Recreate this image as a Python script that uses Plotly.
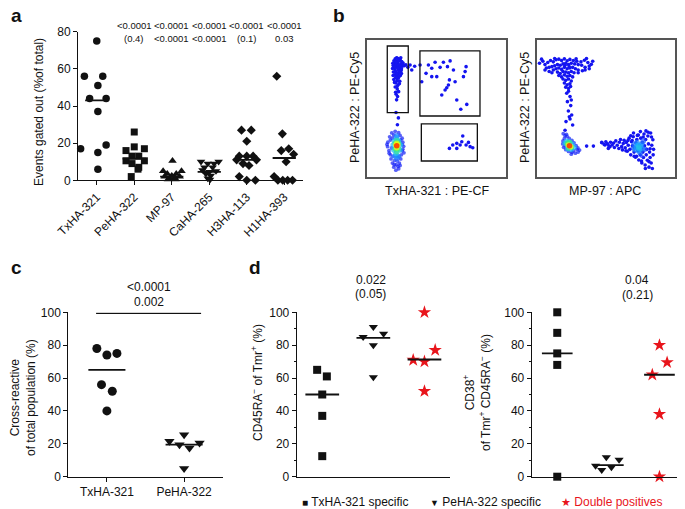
import plotly.graph_objects as go

# The page body keeps the browser's default 8px margin, so the figure is drawn 8px in
# from the top-left corner of the 685x509 window; size and positions account for that.
PAGE_MARGIN = 8
W, H = 685 - PAGE_MARGIN, 509 - PAGE_MARGIN
FONT = "Arial, 'Liberation Sans', sans-serif"
INK = "#111111"
RED = "#e8141b"


def fx(p):
    return (p - PAGE_MARGIN) / W


def fy(p):
    return 1 - (p - PAGE_MARGIN) / H


# ---------------- panel a : events gated out ----------------
a_categories = ["TxHA-321", "PeHA-322", "MP-97", "CaHA-265", "H3HA-113", "H1HA-393"]
a_txha321 = [75, 56, 56, 51, 44, 44, 37, 19, 17, 15, 6]
a_txha321_spread = [0, -0.33, 0.16, 0.03, -0.19, 0.25, 0.03, 0.25, -0.43, 0.03, 0.03]
a_peha322 = [26, 18, 17, 16, 13, 13, 10.5, 10.5, 9, 7, 6, 2]
a_peha322_spread = [0, 0, 0.27, -0.22, -0.06, 0.12, -0.22, 0.27, -0.06, 0.12, 0.1, -0.08]
a_mp97 = [10.5, 5, 3.5, 2.5, 3.5, 5, 2, 1.5, 1, 2, 0.5, 0.5]
a_mp97_spread = [0.02, -0.23, -0.12, 0, 0.12, 0.26, -0.19, 0.08, -0.05, 0.21, -0.1, 0.1]
a_caha265 = [10, 9, 9, 10, 7, 7, 5.5, 4.5, 5, 3.5, 2.5, 1, 0.3]
a_caha265_spread = [-0.22, -0.04, 0.13, 0.25, -0.13, 0.09, -0.18, 0, 0.18, -0.09, 0.04, -0.04, 0.02]
a_h3ha113 = [27, 27, 21, 13, 13, 13, 11, 11, 9, 8, 2, 0, 0]
a_h3ha113_spread = [-0.14, 0.12, 0, -0.2, 0, 0.17, -0.27, 0.26, -0.1, 0.06, -0.2, 0, 0.23]
a_h1ha393 = [56, 25, 17, 16, 14, 10, 2, 0, 0, 0, 0]
a_h1ha393_spread = [-0.2, -0.05, 0.12, -0.08, 0.25, 0.05, -0.27, -0.17, -0.04, 0.09, 0.22]
a_medians = [43, 11.7, 2, 4.5, 11, 12]
a_p_row1 = ["", "<0.0001", "<0.0001", "<0.0001", "<0.0001", "<0.0001"]
a_p_row2 = ["", "(0.4)", "<0.0001", "<0.0001", "(0.1)", "0.03"]

# ---------------- panel c : cross-reactive ----------------
c_categories = ["TxHA-321", "PeHA-322"]
c_txha321 = [78, 74, 75, 56, 52, 40]
c_txha321_spread = [-0.13, 0.0, 0.13, -0.07, 0.07, 0.0]
c_peha322 = [21.5, 19.5, 17.5, 20.5, 25.5, 5]
c_peha322_spread = [-0.19, -0.06, 0.07, 0.2, 0.0, 0.0]
c_medians = [65, 19.5]
c_pvalues = ["<0.0001", "0.002"]

# ---------------- panel d : memory phenotype ----------------
d_groups = ["TxHA-321 specific", "PeHA-322 specific", "Double positives"]
d1_txha = [65, 61, 50, 37, 12.5]
d1_txha_spread = [-0.1, 0.09, 0, 0, 0]
d1_peha = [91, 85, 87, 80, 60.5]
d1_peha_spread = [0, -0.2, 0.2, 0, 0]
d1_double = [100, 77, 71, 70, 52]
d1_double_spread = [0, 0.21, -0.22, 0, 0]
d1_medians = [50, 84.5, 71.3]
d1_pvalues = ["0.022", "(0.05)"]

d2_txha = [100, 87.5, 75, 68, 0]
d2_txha_spread = [0, 0, 0, 0, 0]
d2_peha = [11.8, 10.3, 6.7, 4.1, 5.7]
d2_peha_spread = [-0.04, 0.21, -0.25, -0.13, 0.06]
d2_double = [80, 69.5, 62, 38, 0]
d2_double_spread = [0, 0.15, -0.14, 0, 0]
d2_medians = [75, 7, 62]
d2_pvalues = ["0.04", "(0.21)"]

# ---------------- panel b : flow cytometry events (arbitrary units 0-1000) ----------------
bL_events = [
    # TxHA-321- PeHA-322+ column
    (205, 862), (222, 866), (240, 858), (196, 848), (214, 844), (232, 850), (252, 842), (200, 830),
    (226, 832), (246, 826), (190, 814), (210, 818), (236, 812), (256, 808), (198, 796), (218, 800),
    (238, 793), (205, 781), (228, 778), (248, 776), (192, 766), (212, 762), (232, 761), (200, 746),
    (222, 742), (242, 740), (208, 726), (228, 722), (195, 711), (218, 703), (238, 698), (210, 686),
    (225, 671), (205, 656), (220, 641), (230, 622), (212, 603), (222, 586), (215, 562), (262, 832),
    (186, 792), (240, 760), (215, 728), (200, 690), (235, 680), (230, 852), (210, 802), (250, 790),
    (215, 870), (245, 870), (188, 830), (258, 822), (225, 815), (205, 770), (235, 735), (190, 740),
    (250, 755), (215, 752), (228, 795), (200, 805), (242, 812), (212, 838), (230, 700), (218, 660),
    (208, 618),
    (270, 812), (282, 818), (296, 800), (312, 817), (324, 781), (345, 808),
    (211, 470), (228, 430), (221, 380),
    # double positive gate
    (384, 817), (444, 817), (492, 837), (552, 837), (600, 847), (468, 793), (528, 800), (581, 805),
    (624, 781), (715, 805), (708, 769), (696, 732), (427, 756), (468, 732), (504, 732), (595, 708),
    (588, 671), (576, 651), (564, 634), (540, 598), (636, 695), (648, 561), (720, 529), (677, 493),
    (396, 695),
    # TxHA-321+ PeHA-322- gate
    (595, 207), (619, 232), (648, 244), (684, 256), (691, 298), (732, 251), (744, 220), (763, 212),
    (648, 207), (672, 232), (715, 232),
]
bL_cluster = [  # (x, y, density level)
    (180, 320, .05), (205, 332, .05), (230, 322, .05), (165, 292, .05), (195, 305, .05), (240, 302, .05),
    (255, 282, .05), (152, 252, .05), (170, 268, .05), (260, 252, .05), (266, 222, .05), (150, 220, .05),
    (160, 190, .05), (255, 190, .05), (170, 160, .05), (250, 160, .05), (175, 130, .05), (245, 130, .05),
    (185, 100, .05), (235, 100, .05), (195, 70, .05), (225, 75, .05), (210, 48, .05), (200, 118, .08),
    (230, 58, .05), (212, 88, .05), (240, 82, .05), (190, 150, .1), (260, 200, .05), (146, 236, .05),
    (178, 210, .1), (255, 235, .1), (220, 115, .1), (198, 88, .05), (185, 282, .05), (245, 268, .05),
    (268, 175, .05), (162, 172, .05), (232, 148, .1),
    (200, 262, .3), (230, 262, .3), (190, 232, .3), (242, 232, .3), (195, 195, .3), (240, 195, .3),
    (215, 285, .25), (210, 170, .3), (226, 150, .22), (204, 150, .22), (216, 300, .2), (218, 135, .18),
    (205, 245, .5), (228, 245, .5), (206, 205, .5), (228, 205, .5), (216, 265, .45), (216, 182, .45),
    (210, 232, .72), (224, 232, .72), (216, 212, .72), (216, 245, .7),
    (216, 226, 1.0),
]
bL_gates = [  # (x0, x1, y0, y1)
    (148, 299, 468, 956),
    (383, 815, 444, 920),
    (393, 796, 115, 386),
]

bR_events = [
    # PeHA-322 single positive fan
    (20, 830), (45, 845), (60, 820), (80, 835), (100, 850), (120, 840), (140, 855), (160, 860),
    (180, 850), (200, 862), (220, 848), (240, 858), (265, 850), (290, 845), (320, 840), (345, 852),
    (370, 835), (395, 822), (405, 845), (380, 810), (350, 800), (325, 815), (300, 820), (275, 825),
    (250, 830), (230, 820), (210, 830), (190, 825), (170, 815), (150, 820), (130, 812), (110, 805),
    (90, 800), (70, 795), (120, 780), (140, 790), (160, 795), (180, 785), (200, 800), (220, 790),
    (240, 795), (260, 800), (280, 790), (300, 780), (330, 775), (110, 760), (150, 765), (170, 755),
    (190, 770), (210, 765), (230, 760), (250, 770), (270, 760), (160, 740), (180, 730), (200, 745),
    (220, 735), (240, 740), (260, 730), (190, 715), (210, 705), (230, 715), (250, 700), (200, 685),
    (220, 672), (240, 680), (210, 655), (230, 645), (245, 660), (90, 770), (60, 780), (300, 760),
    (350, 780), (380, 790), (35, 860), (130, 865), (285, 862), (360, 865), (205, 815), (235, 805),
    # vertical tail
    (217, 610), (241, 586), (222, 549), (246, 520), (229, 481), (253, 451), (241, 422), (260, 378),
    (236, 439), (212, 403), (250, 561), (230, 625), (205, 340),
    # bridge
    (361, 224), (410, 224), (470, 251), (494, 232), (518, 207), (530, 220),
    # MP-97 positive cluster
    (472, 248), (488, 236), (500, 256), (512, 240), (522, 226), (534, 252), (546, 232), (556, 246),
    (562, 214), (572, 262), (582, 230), (594, 206), (598, 252), (606, 272), (614, 220), (620, 196),
    (626, 242), (632, 266), (640, 212), (648, 250), (655, 186), (662, 230), (668, 282), (674, 200),
    (680, 160), (686, 256), (692, 226), (698, 292), (704, 180), (708, 212), (714, 142), (718, 248),
    (724, 272), (728, 302), (732, 190), (738, 122), (742, 232), (748, 160), (752, 282), (756, 210),
    (760, 100), (764, 250), (768, 180), (772, 140), (776, 312), (780, 226), (784, 86), (788, 272),
    (792, 160), (796, 200), (800, 120), (804, 298), (808, 240), (812, 70), (816, 180), (820, 140),
    (824, 320), (828, 100), (832, 230), (836, 60), (840, 270), (842, 160), (845, 200), (700, 320),
    (750, 330), (790, 335), (680, 300), (735, 305), (722, 150), (758, 115), (786, 60), (812, 110),
    (690, 265), (770, 290), (830, 290), (806, 325), (820, 205), (660, 265), (645, 190), (705, 150),
]
bR_cluster = [  # (x, y, density level)
    (192, 315, .05), (205, 300, .05), (200, 280, .05), (190, 262, .05), (188, 240, .05), (195, 215, .05),
    (210, 198, .05), (230, 185, .05), (255, 178, .05), (280, 172, .05), (300, 180, .05), (310, 195, .05),
    (298, 210, .05), (285, 228, .05), (270, 248, .05), (255, 265, .05), (235, 280, .05), (220, 295, .05),
    (215, 310, .05), (265, 190, .05), (290, 200, .05), (205, 225, .1), (250, 165, .05),
    (215, 260, .3), (205, 245, .3), (225, 205, .3), (250, 200, .3), (270, 215, .3), (255, 240, .3),
    (235, 255, .3), (220, 235, .35),
    (222, 245, .5), (250, 215, .5), (238, 250, .5), (232, 210, .5),
    (228, 232, .72), (246, 220, .72),
    (237, 227, 1.0),
    (720, 215, .25), (742, 205, .3), (732, 232, .28), (712, 198, .22), (752, 225, .25), (736, 188, .22),
    (760, 240, .2), (725, 250, .2), (748, 176, .18), (765, 205, .2), (705, 235, .18), (738, 215, .33),
    (780, 200, .15), (700, 210, .15), (770, 260, .15), (760, 150, .12),
]

FLOW_CS = [[0, "#0a0af0"], [0.12, "#1f3dff"], [0.28, "#19b5ff"], [0.5, "#3cf07c"],
           [0.72, "#ffff00"], [0.86, "#ff8c00"], [1, "#ff0000"]]

fig = go.Figure()

# ---------- panel a traces ----------
a_series = [a_txha321, a_peha322, a_mp97, a_caha265, a_h3ha113, a_h1ha393]
a_spreads = [a_txha321_spread, a_peha322_spread, a_mp97_spread, a_caha265_spread,
             a_h3ha113_spread, a_h1ha393_spread]
a_symbols = ["circle", "square", "triangle-up", "triangle-down", "diamond", "diamond"]
a_sizes = [7.5, 7, 7.5, 7.5, 7, 7]
for i, (vals, spr) in enumerate(zip(a_series, a_spreads)):
    fig.add_trace(go.Scatter(
        x=[i + s for s in spr], y=vals, mode="markers", xaxis="x", yaxis="y",
        marker=dict(symbol=a_symbols[i], size=a_sizes[i], color=INK, line=dict(width=0)),
        cliponaxis=False, hoverinfo="skip"))


# ---------- panel b traces ----------
def flow(events, cluster, xa, ya):
    fig.add_trace(go.Scatter(
        x=[e[0] for e in events], y=[e[1] for e in events], mode="markers", xaxis=xa, yaxis=ya,
        marker=dict(size=3.6, color="#1414f0", line=dict(width=0)), hoverinfo="skip"))
    ordered = sorted(cluster, key=lambda c: c[2])
    fig.add_trace(go.Scatter(
        x=[c[0] for c in ordered], y=[c[1] for c in ordered], mode="markers", xaxis=xa, yaxis=ya,
        marker=dict(size=[3.8 if c[2] < 0.15 else 5.5 for c in ordered],
                    color=[c[2] for c in ordered], colorscale=FLOW_CS, cmin=0, cmax=1,
                    line=dict(width=0)),
        hoverinfo="skip"))


flow(bL_events, bL_cluster, "x2", "y2")
flow(bR_events, bR_cluster, "x3", "y3")

# ---------- panel c traces ----------
fig.add_trace(go.Scatter(x=[0 + s for s in c_txha321_spread], y=c_txha321, mode="markers",
                         xaxis="x4", yaxis="y4", cliponaxis=False, hoverinfo="skip",
                         marker=dict(symbol="circle", size=9, color=INK)))
fig.add_trace(go.Scatter(x=[1 + s for s in c_peha322_spread], y=c_peha322, mode="markers",
                         xaxis="x4", yaxis="y4", cliponaxis=False, hoverinfo="skip",
                         marker=dict(symbol="triangle-down", size=9, color=INK)))

# ---------- panel d traces ----------
d_symbols = ["square", "triangle-down", "star"]
d_colors = [INK, INK, RED]
d_msizes = [8, 8, 10]
for xa, ya, series, spreads in [
    ("x5", "y5", [d1_txha, d1_peha, d1_double], [d1_txha_spread, d1_peha_spread, d1_double_spread]),
    ("x6", "y6", [d2_txha, d2_peha, d2_double], [d2_txha_spread, d2_peha_spread, d2_double_spread]),
]:
    for i, (vals, spr) in enumerate(zip(series, spreads)):
        fig.add_trace(go.Scatter(
            x=[i + s for s in spr], y=vals, mode="markers", xaxis=xa, yaxis=ya,
            marker=dict(symbol=d_symbols[i], size=d_msizes[i], color=d_colors[i], line=dict(width=0)),
            cliponaxis=False, hoverinfo="skip"))

# ---------- shapes: medians, comparison bars, gates ----------
shapes = []


def median_lines(meds, xr, yr, half, width=1.8):
    for i, m in enumerate(meds):
        shapes.append(dict(type="line", xref=xr, yref=yr, x0=i - half, x1=i + half, y0=m, y1=m,
                           line=dict(color=INK, width=width)))


median_lines(a_medians, "x", "y", 0.31)
median_lines(c_medians, "x4", "y4", 0.24)
median_lines(d1_medians, "x5", "y5", 0.33)
median_lines(d2_medians, "x6", "y6", 0.3)

shapes.append(dict(type="line", xref="x4", yref="y4", x0=-0.14, x1=1.22, y0=99.4, y1=99.4,
                   line=dict(color=INK, width=1.3)))
shapes.append(dict(type="line", xref="x5", yref="y5", x0=-0.15, x1=2.02, y0=105.8, y1=105.8,
                   line=dict(color=INK, width=1.3)))
shapes.append(dict(type="line", xref="x6", yref="y6", x0=0.87, x1=2.03, y0=101.8, y1=101.8,
                   line=dict(color=INK, width=1.3)))

for (x0, x1, y0, y1) in bL_gates:
    shapes.append(dict(type="rect", xref="x2", yref="y2", x0=x0, x1=x1, y0=y0, y1=y1,
                       line=dict(color=INK, width=1.3), fillcolor="rgba(0,0,0,0)"))

# ---------- annotations ----------
ann = []


def text(x, y, s, size=12, xref="paper", yref="paper", angle=0, color=INK, xanchor="center",
         yanchor="middle", bold=False):
    ann.append(dict(x=x, y=y, xref=xref, yref=yref, text=f"<b>{s}</b>" if bold else s,
                    showarrow=False, textangle=angle, xanchor=xanchor, yanchor=yanchor,
                    font=dict(size=size, color=color, family=FONT)))


# panel letters
text(fx(8.5), fy(15), "a", size=19, bold=True, xanchor="left")
text(fx(331), fy(16), "b", size=19, bold=True, xanchor="left")
text(fx(8.5), fy(267), "c", size=19, bold=True, xanchor="left")
text(fx(247), fy(267), "d", size=19, bold=True, xanchor="left")

# panel a p-values
for i in range(len(a_categories)):
    if a_p_row1[i]:
        text(i, fy(26), a_p_row1[i], size=9.5, xref="x")
        text(i, fy(39), a_p_row2[i], size=9.5, xref="x")
text(fx(39), fy(112), "Events gated out (%of total)", size=12, angle=-90)

# panel b titles
text(fx(355), fy(108), "PeHA-322 : PE-Cy5", size=12.5, angle=-90)
text(fx(525), fy(108), "PeHA-322 : PE-Cy5", size=12.5, angle=-90)
text(fx(437), fy(191), "TxHA-321 : PE-CF", size=12.5)
text(fx(605), fy(191), "MP-97 : APC", size=12.5)

# panel c
text(0.54, fy(286.5), c_pvalues[0], size=12, xref="x4")
text(0.54, fy(302), c_pvalues[1], size=12, xref="x4")
text(fx(23), fy(398), "Cross-reactive<br>of total population (%)", size=12, angle=-90)

# panel d
text(0.95, fy(279.5), d1_pvalues[0], size=12, xref="x5")
text(0.95, fy(293.5), d1_pvalues[1], size=12, xref="x5")
text(1.57, fy(279.5), d2_pvalues[0], size=12, xref="x6")
text(1.57, fy(294.5), d2_pvalues[1], size=12, xref="x6")
text(fx(257), fy(383), "CD45RA<sup>−</sup> of Tmr<sup>+</sup> (%)", size=12, angle=-90)
text(fx(477), fy(393), "CD38<sup>+</sup><br>of Tmr<sup>+</sup> CD45RA<sup>−</sup> (%)", size=12, angle=-90)

# legend of panel d
text(fx(300), fy(502), "<span style='font-size:10px'>■</span> " + d_groups[0], xanchor="left")
text(fx(428), fy(502), "<span style='font-size:9px'>▼</span> " + d_groups[1], xanchor="left")
text(fx(559), fy(502), "<span style='font-size:11px'>★</span> " + d_groups[2], xanchor="left",
     color=RED)

# ---------- axes ----------
base = dict(showgrid=False, zeroline=False, showline=True, linecolor=INK, linewidth=1,
            tickcolor=INK, tickfont=dict(size=12, color=INK, family=FONT), automargin=False)

flow_axis = dict(showgrid=False, zeroline=False, showline=True, mirror=True, linecolor="#555555",
                 linewidth=1.5, showticklabels=False, ticks="", range=[0, 1000], fixedrange=True,
                 automargin=False)

fig.update_layout(
    width=W, height=H, margin=dict(l=0, r=0, t=0, b=0, autoexpand=False),
    paper_bgcolor="white", plot_bgcolor="white", showlegend=False,
    font=dict(family=FONT, color=INK, size=12),
    xaxis=dict(base, domain=[fx(78), fx(303)], range=[-0.5, 5.5], anchor="y",
               tickvals=list(range(6)), ticktext=a_categories, tickangle=-45,
               ticks="outside", ticklen=4),
    yaxis=dict(base, domain=[fy(180.3), fy(31.7)], range=[0, 80], anchor="x",
               tickvals=[0, 20, 40, 60, 80], ticks="outside", ticklen=4),
    xaxis2=dict(flow_axis, domain=[fx(366.7), fx(505.7)], anchor="y2"),
    yaxis2=dict(flow_axis, domain=[fy(176.7), fy(40)], anchor="x2"),
    xaxis3=dict(flow_axis, domain=[fx(536.7), fx(675)], anchor="y3"),
    yaxis3=dict(flow_axis, domain=[fy(176.7), fy(40)], anchor="x3"),
    xaxis4=dict(base, domain=[fx(68.3), fx(222.7)], range=[-0.5, 1.5], anchor="y4",
                tickvals=[0, 1], ticktext=c_categories, tickangle=0, ticks="outside", ticklen=4),
    yaxis4=dict(base, domain=[fy(476.7), fy(312.3)], range=[0, 100], anchor="x4",
                tickvals=[0, 20, 40, 60, 80, 100], ticks="outside", ticklen=4),
    xaxis5=dict(base, domain=[fx(296.7), fx(450)], range=[-0.5, 2.5], anchor="y5",
                showticklabels=False, ticks=""),
    yaxis5=dict(base, domain=[fy(476.7), fy(312.3)], range=[0, 100], anchor="x5",
                tickvals=[0, 20, 40, 60, 80, 100], ticks="outside", ticklen=4,
                minor=dict(ticks="outside", ticklen=2, dtick=10, tickcolor=INK)),
    xaxis6=dict(base, domain=[fx(531.7), 1.0], range=[-0.5, 2.5], anchor="y6",
                showticklabels=False, ticks=""),
    yaxis6=dict(base, domain=[fy(476.7), fy(312.3)], range=[0, 100], anchor="x6",
                tickvals=[0, 20, 40, 60, 80, 100], ticks="outside", ticklen=4,
                minor=dict(ticks="outside", ticklen=2, dtick=10, tickcolor=INK)),
    shapes=shapes, annotations=ann,
)

fig.write_html("out.html")
